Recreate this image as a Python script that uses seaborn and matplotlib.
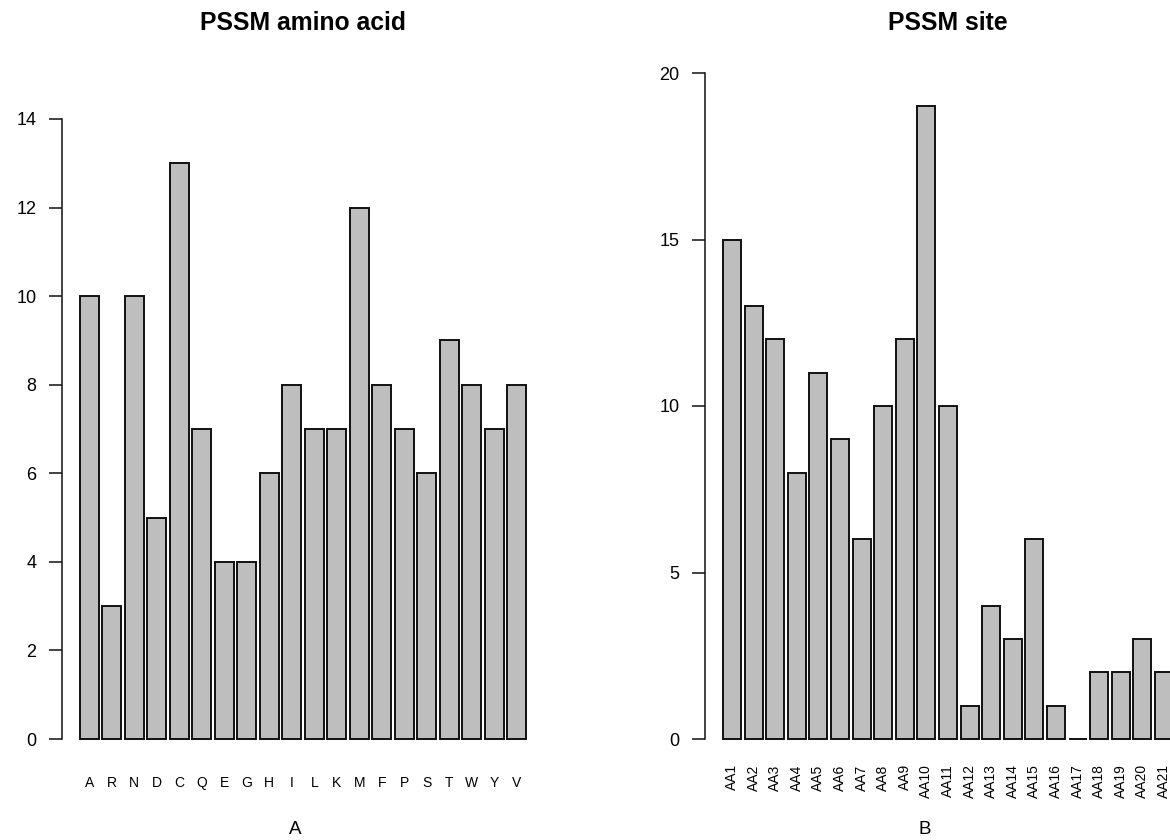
import numpy as np
import pandas as pd
import matplotlib
matplotlib.use('Agg')
import matplotlib.pyplot as plt
import seaborn as sns

# counts per amino acid (panel A) and per site (panel B)
aa_names = ['A', 'R', 'N', 'D', 'C', 'Q', 'E', 'G', 'H', 'I',
            'L', 'K', 'M', 'F', 'P', 'S', 'T', 'W', 'Y', 'V']
aa_counts = [10, 3, 10, 5, 13, 7, 4, 4, 6, 8, 7, 7, 12, 8, 7, 6, 9, 8, 7, 8]

site_names = ['AA1', 'AA2', 'AA3', 'AA4', 'AA5', 'AA6', 'AA7', 'AA8', 'AA9', 'AA10', 'AA11',
              'AA12', 'AA13', 'AA14', 'AA15', 'AA16', 'AA17', 'AA18', 'AA19', 'AA20', 'AA21']
site_counts = [15, 13, 12, 8, 11, 9, 6, 10, 12, 19, 10, 1, 4, 3, 6, 1, 0, 2, 2, 3, 2]

aa_ticks = [0, 2, 4, 6, 8, 10, 12, 14]
site_ticks = [0, 5, 10, 15, 20]

W, H = 1170, 840

sns.set_style('white')
plt.rcParams['font.family'] = ['Liberation Sans', 'DejaVu Sans']
plt.rcParams['text.color'] = 'black'
plt.rcParams['xtick.labelcolor'] = 'black'
plt.rcParams['ytick.labelcolor'] = 'black'

fig = plt.figure(figsize=(W / 100, H / 100), dpi=100)


def panel_rect(xl, xr, y0, ytop, vtop, ylim):
    # pixel geometry -> figure fraction rect
    ppu = (y0 - ytop) / vtop
    bot = y0 - ylim[0] * ppu
    top = y0 - ylim[1] * ppu
    return [xl / W, 1 - bot / H, (xr - xl) / W, (bot - top) / H]


def bar_panel(rect, names, counts, ticks, xlim, ylim, rot):
    ax = fig.add_axes(rect)
    df = pd.DataFrame({'name': names, 'count': counts})
    sns.barplot(data=df, x='name', y='count', order=names, color='#bebebe',
                saturation=1, width=0.83, edgecolor='#111111', linewidth=1.4, ax=ax)
    ax.set_xlim(*xlim)
    ax.set_ylim(*ylim)
    ax.set_yticks(ticks)
    ax.set_xlabel('')
    ax.set_ylabel('')
    for s in ['top', 'right', 'bottom']:
        ax.spines[s].set_visible(False)
    ax.spines['left'].set_bounds(ticks[0], ticks[-1])
    ax.spines['left'].set_linewidth(1.1)
    ax.spines['left'].set_color('#111111')
    ax.tick_params(axis='y', length=9.5, width=1.1, color='#111111', pad=9,
                   labelsize=13, direction='out', left=True)
    if rot:
        ax.tick_params(axis='x', length=0, pad=11, labelsize=10)
        plt.setp(ax.get_xticklabels(), rotation=90, va='top', ha='center')
    else:
        ax.tick_params(axis='x', length=0, pad=17, labelsize=10)
    return ax


ax1 = bar_panel(panel_rect(62, 544, 739, 119, 14, (-0.3, 14.3)),
                aa_names, aa_counts, aa_ticks, (-1.21, 20.21), (-0.3, 14.3), False)
ax2 = bar_panel(panel_rect(705, 1191, 739, 73, 20, (-0.3, 20.3)),
                site_names, site_counts, site_ticks, (-1.25, 21.25), (-0.3, 20.3), True)

fig.text(303 / W, 1 - 23 / H, 'PSSM amino acid', ha='center', va='center',
         fontsize=17.8, fontweight='bold')
fig.text(948 / W, 1 - 23 / H, 'PSSM site', ha='center', va='center',
         fontsize=17.8, fontweight='bold')
fig.text(295 / W, 1 - 830 / H, 'A', ha='center', va='center', fontsize=13.5)
fig.text(925 / W, 1 - 830 / H, 'B', ha='center', va='center', fontsize=13.5)

plt.savefig('out.png', dpi=100)
